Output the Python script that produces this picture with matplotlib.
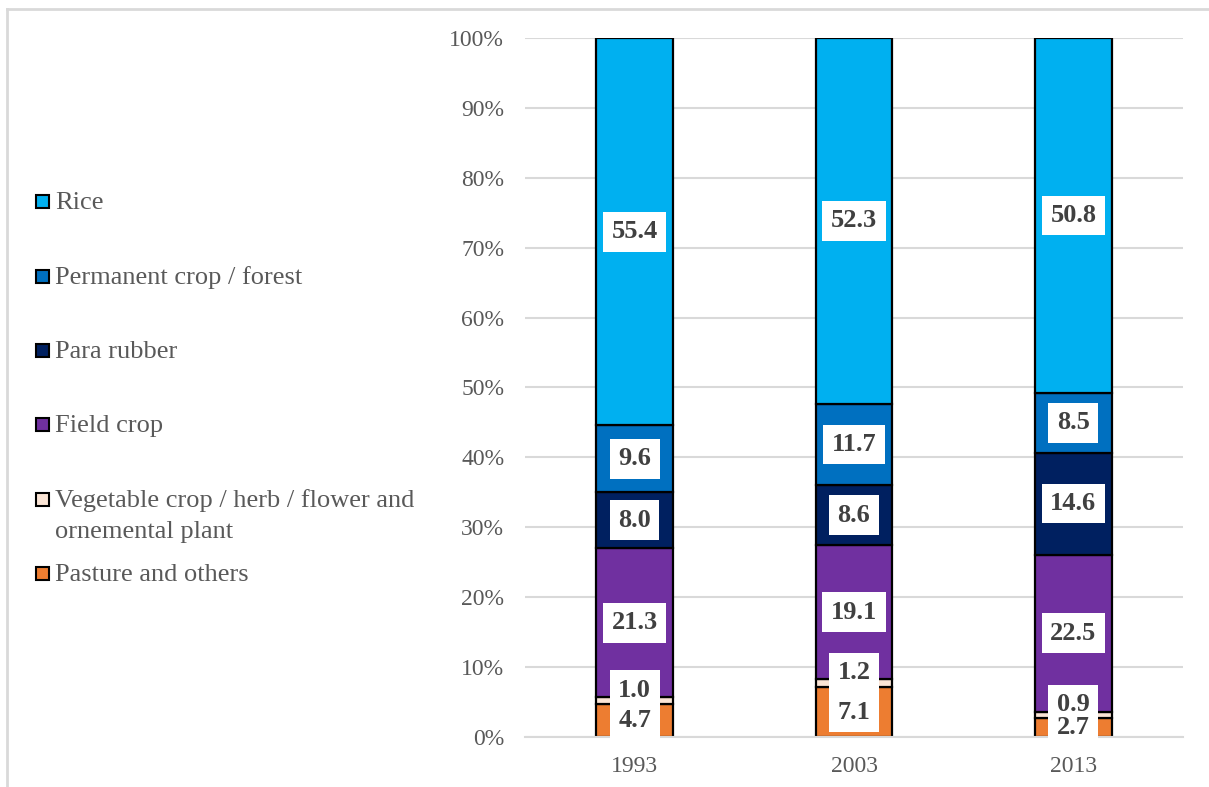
import numpy as np
import matplotlib.pyplot as plt
from matplotlib.patches import Rectangle

years = ['1993', '2003', '2013']
categories = ['Pasture and others',
              'Vegetable crop / herb / flower and\nornemental plant',
              'Field crop', 'Para rubber', 'Permanent crop / forest', 'Rice']
pasture = [4.7, 7.1, 2.7]
vegetable = [1.0, 1.2, 0.9]
field_crop = [21.3, 19.1, 22.5]
para_rubber = [8.0, 8.6, 14.6]
permanent = [9.6, 11.7, 8.5]
rice = [55.4, 52.3, 50.8]
colors = ['#ED7D31', '#FBE5D6', '#7030A0', '#002060', '#0070C0', '#00B0F0']

series = [pasture, vegetable, field_crop, para_rubber, permanent, rice]

plt.rcParams['font.family'] = ['Liberation Serif', 'DejaVu Serif']
W, H = 1209, 787
fig = plt.figure(figsize=(W / 100, H / 100), dpi=100)
ax = fig.add_axes([525 / W, (H - 737) / H, (1183 - 525) / W, (737 - 38) / H])

x = np.arange(len(years))
bottom = np.zeros(len(years))
for vals, col in zip(series, colors):
    ax.bar(x, vals, width=0.35, bottom=bottom, color=col, edgecolor='black',
           linewidth=1.6, zorder=3)
    bottom += np.array(vals)

# data labels: centred in each segment, the thin vegetable one lifted a little.
# white boxes go in first so that no box hides a neighbouring number
box = dict(boxstyle='square,pad=0.32', facecolor='white', edgecolor='none')
bottom = np.zeros(len(years))
for k, vals in enumerate(series):
    for i, v in enumerate(vals):
        yc = bottom[i] + v / 2
        if k == 1:
            yc += 1.5
        txt = f'{v:.1f}'
        ax.text(x[i], yc, txt, ha='center', va='center', fontsize=19,
                fontweight='bold', color='none', bbox=box, zorder=5, clip_on=False)
        ax.text(x[i], yc, txt, ha='center', va='center', fontsize=19,
                fontweight='bold', color='#404040', zorder=6, clip_on=False)
    bottom += np.array(vals)

ax.set_xlim(-0.5, 2.5)
ax.set_ylim(0, 100)
ax.set_yticks(np.arange(0, 101, 10))
ax.set_yticklabels([f'{t}%' for t in range(0, 101, 10)])
ax.set_xticks(x)
ax.set_xticklabels(years)
ax.tick_params(axis='both', length=0, labelsize=17, labelcolor='#595959')
ax.tick_params(axis='y', pad=15)
ax.tick_params(axis='x', pad=14)
ax.grid(axis='y', color='#D9D9D9', linewidth=1.5, zorder=0)
for s in ['top', 'right', 'left']:
    ax.spines[s].set_visible(False)
ax.spines['bottom'].set_color('#D9D9D9')
ax.spines['bottom'].set_linewidth(1.5)
ax.spines['bottom'].set_zorder(4)

# chart frame
fig.add_artist(plt.Line2D([7 / W, 7 / W], [0, 1 - 9 / H], transform=fig.transFigure,
                          color='#D9D9D9', linewidth=2))
fig.add_artist(plt.Line2D([7 / W, 1], [1 - 9 / H, 1 - 9 / H], transform=fig.transFigure,
                          color='#D9D9D9', linewidth=2))

# legend, top entry first
legend_y = [201, 276, 350, 424, 499, 573]
for lab, col, yy in zip(categories[::-1], colors[::-1], legend_y):
    fig.add_artist(Rectangle((36 / W, 1 - (yy + 7) / H), 13 / W, 13 / H,
                             transform=fig.transFigure, facecolor=col,
                             edgecolor='black', linewidth=1.5))
    if '\n' in lab:
        fig.text(55 / W, 1 - (yy - 10) / H, lab, ha='left', va='top',
                 fontsize=19, color='#595959', linespacing=1.55)
    else:
        fig.text(55 / W, 1 - (yy + 2) / H, lab, ha='left', va='center',
                 fontsize=19, color='#595959')

fig.savefig('out.png', dpi=100)
